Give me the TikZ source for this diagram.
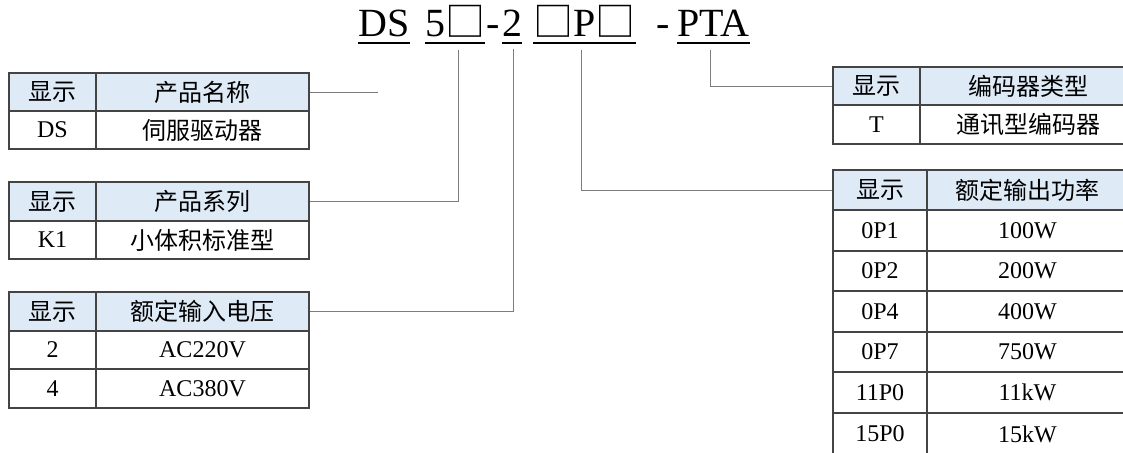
\documentclass[tikz,border=0pt]{standalone}
\usepackage{fontspec}
\setmainfont{Liberation Serif}
\newfontfamily\cjk{Noto Sans CJK SC}
\definecolor{hdr}{RGB}{222,234,246}
\definecolor{bd}{RGB}{68,68,68}
\definecolor{cn}{RGB}{125,125,125}
\begin{document}
\begin{tikzpicture}[x=1pt,y=-1pt,
  cellbase/.style={draw=bd,line width=1.1pt,inner sep=0pt,anchor=center,
    font=\fontsize{24}{24}\selectfont},
  hcell/.style={cellbase,fill=hdr},
  bcell/.style={cellbase,fill=white},
  ttl/.style={font=\fontsize{40}{40}\selectfont,inner sep=0pt,anchor=base west},
  uline/.style={draw=black,line width=1.4pt},
  conn/.style={draw=cn,line width=1pt}]
\useasboundingbox (0,0) rectangle (1123,452);
\fill[white] (0,0) rectangle (1123,452);

% ---------- title ----------
\node[ttl] (sDS) at (358,37) {DS};
\node[ttl] (s5) at (425,37) {5{\cjk □}};
\node[ttl] (sd1) at (486,37) {-};
\node[ttl] (s2) at (502,37) {2};
\node[ttl] (sP) at (533,37) {{\cjk □}P{\cjk □}};
\node[ttl] (sd2) at (656,37) {-};
\node[ttl] (sPTA) at (677,37) {PTA};
\coordinate (ul) at (0,43);
\foreach \s in {sDS,s5,s2,sP,sPTA}
  \draw[uline] (\s.west |- ul) -- (\s.east |- ul);

% ---------- table A ----------
\node[hcell,minimum width=87,minimum height=38] (a11) at (52.5,92) {\cjk 显示};
\node[hcell,minimum width=213,minimum height=38] (a12) at (202.5,92) {\cjk 产品名称};
\node[bcell,minimum width=87,minimum height=38] (a21) at (52.5,130) {DS};
\node[bcell,minimum width=213,minimum height=38] (a22) at (202.5,130) {\cjk 伺服驱动器};

% ---------- table B ----------
\node[hcell,minimum width=87,minimum height=39] (b11) at (52.5,201.5) {\cjk 显示};
\node[hcell,minimum width=213,minimum height=39] (b12) at (202.5,201.5) {\cjk 产品系列};
\node[bcell,minimum width=87,minimum height=38] (b21) at (52.5,240) {K1};
\node[bcell,minimum width=213,minimum height=38] (b22) at (202.5,240) {\cjk 小体积标准型};

% ---------- table C ----------
\node[hcell,minimum width=87,minimum height=39] (c11) at (52.5,311.5) {\cjk 显示};
\node[hcell,minimum width=213,minimum height=39] (c12) at (202.5,311.5) {\cjk 额定输入电压};
\node[bcell,minimum width=87,minimum height=38] (c21) at (52.5,350) {2};
\node[bcell,minimum width=213,minimum height=38] (c22) at (202.5,350) {AC220V};
\node[bcell,minimum width=87,minimum height=39] (c31) at (52.5,388.5) {4};
\node[bcell,minimum width=213,minimum height=39] (c32) at (202.5,388.5) {AC380V};

% ---------- table D ----------
\node[hcell,minimum width=87,minimum height=38] (d11) at (876.5,86) {\cjk 显示};
\node[hcell,minimum width=216,minimum height=38] (d12) at (1028,86) {\cjk 编码器类型};
\node[bcell,minimum width=87,minimum height=39] (d21) at (876.5,124.5) {T};
\node[bcell,minimum width=216,minimum height=39] (d22) at (1028,124.5) {\cjk 通讯型编码器};

% ---------- table E ----------
\node[hcell,minimum width=94,minimum height=40] (e11) at (880,190) {\cjk 显示};
\node[hcell,minimum width=201,minimum height=40] (e12) at (1027.5,190) {\cjk 额定输出功率};
\node[bcell,minimum width=94,minimum height=41] (e21) at (880,230.5) {0P1};
\node[bcell,minimum width=201,minimum height=41] (e22) at (1027.5,230.5) {100W};
\node[bcell,minimum width=94,minimum height=40] (e31) at (880,271) {0P2};
\node[bcell,minimum width=201,minimum height=40] (e32) at (1027.5,271) {200W};
\node[bcell,minimum width=94,minimum height=41] (e41) at (880,311.5) {0P4};
\node[bcell,minimum width=201,minimum height=41] (e42) at (1027.5,311.5) {400W};
\node[bcell,minimum width=94,minimum height=40] (e51) at (880,352) {0P7};
\node[bcell,minimum width=201,minimum height=40] (e52) at (1027.5,352) {750W};
\node[bcell,minimum width=94,minimum height=41] (e61) at (880,392.5) {11P0};
\node[bcell,minimum width=201,minimum height=41] (e62) at (1027.5,392.5) {11kW};
\node[bcell,minimum width=94,minimum height=42] (e71) at (880,434) {15P0};
\node[bcell,minimum width=201,minimum height=42] (e72) at (1027.5,434) {15kW};

% ---------- connectors ----------
\coordinate (kD) at (378,92);
\coordinate (k5) at (458,50);
\coordinate (k2) at (513,49);
\coordinate (kP) at (581,50);
\coordinate (kT) at (710,50);
\draw[conn] (a12.east) -- (kD);
\draw[conn] (b12.east) -| (k5);
\draw[conn] (c12.east) -| (k2);
\draw[conn] (kT) |- (d11.west);
\draw[conn] (kP) |- (e11.west);
\end{tikzpicture}
\end{document}
